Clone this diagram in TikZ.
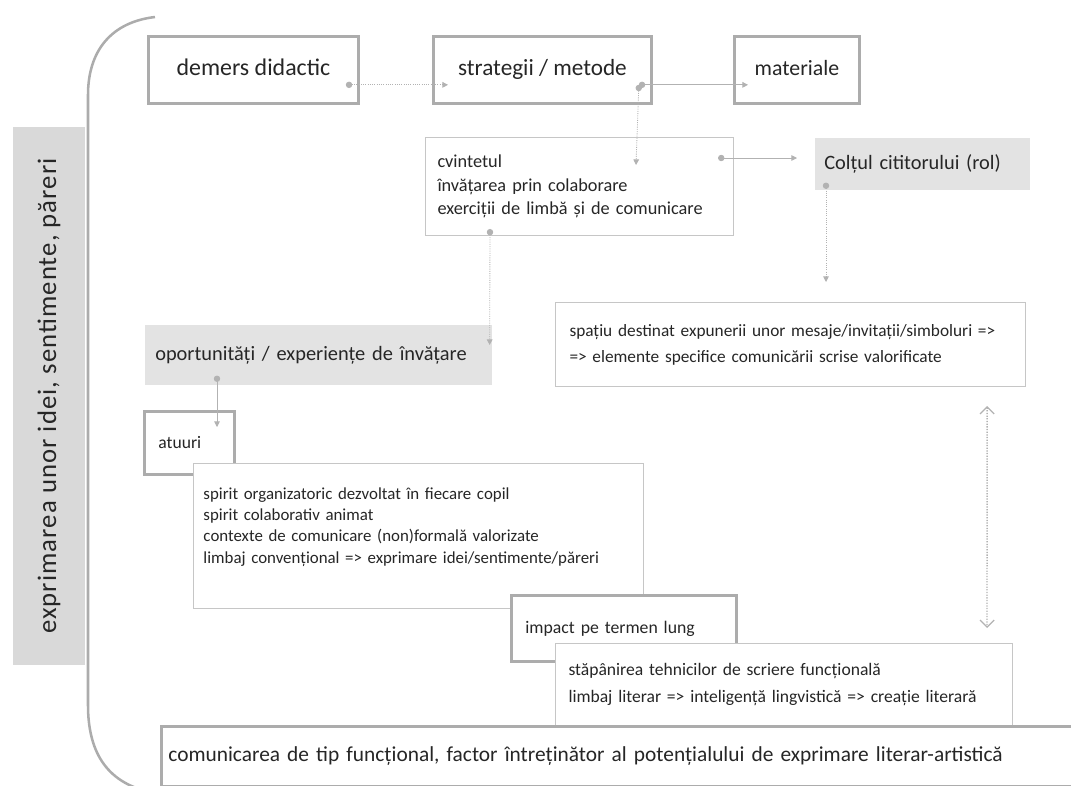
\documentclass[tikz,border=0pt]{standalone}
\usepackage{fontspec}
\setmainfont{Carlito}
\usetikzlibrary{arrows.meta,calc,positioning}

\tikzset{
  thickbox/.style={rectangle, draw=gray!65, line width=2pt, fill=white, text=black!85, inner sep=0pt},
  topbox/.style={thickbox, anchor=north west, minimum height=1.675cm, text height=0.5cm, text depth=0.2cm},
  thinbox/.style={rectangle, draw=gray!45, line width=0.7pt, fill=white, text=black!85, align=left, inner sep=0pt},
  shaded/.style={rectangle, fill=gray!22, text=black!85, align=left, inner sep=0pt},
  link/.style={{Circle[length=4.5pt]}-{Triangle[length=4pt,width=4pt]}, draw=gray!60, line width=0.6pt},
  dlink/.style={link, densely dotted},
  both/.style={{Straight Barb[length=5pt,width=10pt]}-{Straight Barb[length=5pt,width=10pt]}, draw=gray!60, line width=0.9pt, densely dotted},
  bracket/.style={draw=gray!65, line width=1.8pt}
}

\begin{document}
\begin{tikzpicture}[x=0.025cm, y=-0.025cm]
    \useasboundingbox (0,0) rectangle (1071,785);

    % left side bar and bracket
    \node[shaded, align=center, minimum width=13.425cm, minimum height=1.8cm, rotate=90,
          font=\fontsize{19}{22}\selectfont\addfontfeatures{LetterSpace=4}, fill=gray!30] (theme) at (49,396) {exprimarea unor idei, sentimente, păreri};
    \draw[bracket] (155,17) .. controls (112,22) and (88,50) .. (88,95) -- (88,705)
        .. controls (88,750) and (105,782) .. (150,792);

    % top row
    \node[topbox, minimum width=5.25cm, font=\fontsize{17}{20}\selectfont] (demers) at (147,35) {demers didactic};
    \node[topbox, minimum width=5.45cm, font=\fontsize{16.5}{20}\selectfont] (strategii) at (432,35) {strategii / metode};
    \node[topbox, minimum width=3.125cm, font=\fontsize{15.5}{19}\selectfont] (materiale) at (733,35) {materiale};

    % methods and reading corner
    \node[thinbox, anchor=north west, minimum width=7.7cm, minimum height=2.45cm, text width=7.1cm,
          inner xsep=0.3cm, font=\fontsize{13}{16.8}\selectfont] (metode) at (425,137)
          {cvintetul\\învățarea prin colaborare\\exerciții de limbă și de comunicare};
    \node[shaded, anchor=north west, minimum width=5.375cm, minimum height=1.3cm, text width=4.925cm,
          inner xsep=0.225cm, font=\fontsize{14.5}{17}\selectfont] (coltul) at (815,138) {Colțul cititorului (rol)};
    \node[thinbox, anchor=north west, minimum width=11.75cm, minimum height=2.1cm, text width=11.05cm,
          inner xsep=0.35cm, font=\fontsize{12.3}{18.5}\selectfont] (spatiu) at (555,302)
          {spațiu destinat expunerii unor mesaje/invitații/simboluri =>\\=> elemente specifice comunicării scrise valorificate};

    % opportunities
    \node[shaded, anchor=north west, minimum width=8.675cm, minimum height=1.5cm, text width=8.175cm,
          inner xsep=0.25cm, font=\fontsize{14.5}{17}\selectfont] (oport) at (145,325) {oportunități / experiențe de învățare};
    \node[thickbox, anchor=north west, minimum width=2.25cm, minimum height=1.575cm, text width=1.55cm,
          inner xsep=0.35cm, align=left, font=\fontsize{12.5}{15}\selectfont] (atuuri) at (143,410) {atuuri};
    \node[thinbox, anchor=north west, minimum width=11.25cm, minimum height=3.625cm, text width=10.75cm,
          inner xsep=0.25cm, font=\fontsize{12}{15.2}\selectfont] (atuuriText) at (193,463)
          {spirit organizatoric dezvoltat în fiecare copil\\spirit colaborativ animat\\contexte de comunicare (non)formală valorizate\\limbaj convențional => exprimare idei/sentimente/păreri\\\mbox{}};

    % long term impact
    \node[thickbox, anchor=north west, minimum width=5.625cm, minimum height=1.65cm, text width=4.925cm,
          inner xsep=0.35cm, align=left, font=\fontsize{12.6}{15}\selectfont] (impact) at (510,594) {impact pe termen lung};
    \node[thinbox, anchor=north west, minimum width=11.425cm, minimum height=2.05cm, text width=10.775cm,
          inner xsep=0.325cm, font=\fontsize{12.5}{19}\selectfont] (impactText) at (555,643)
          {stăpânirea tehnicilor de scriere funcțională\\limbaj literar => inteligență lingvistică => creație literară};

    % bottom line
    \node[thickbox, anchor=north west, minimum width=23.25cm, minimum height=1.5cm, text width=22.9cm,
          inner xsep=0.175cm, align=left, font=\fontsize{15.2}{18}\selectfont] (concluzie) at (160,725)
          {comunicarea de tip funcțional, factor întreținător al potențialului de exprimare literar-artistică};

    % connectors
    \draw[dlink] ($(demers.south east)+(-14,-20)$) -- ($(strategii.south west)+(16,-20)$);
    \draw[link] ($(strategii.south east)+(-14,-20)$) -- ($(materiale.south west)+(15,-20)$);
    \draw[dlink] ($(strategii.south east)+(-14,-20)$) -- ($(metode.north west)+(211,28)$);
    \draw[link] ($(metode.north east)+(-16,21)$) -- ($(coltul.north west)+(-18,20)$);
    \draw[dlink] ($(coltul.south west)+(11,-8)$) -- ($(spatiu.north west)+(271,-20)$);
    \draw[dlink] ($(metode.south west)+(65,-7)$) -- ($(oport.north east)+(-3,20)$);
    \draw[link] ($(oport.south west)+(72,-10)$) -- ($(atuuri.north west)+(74,17)$);
    \draw[both] ($(spatiu.south east)+(-39,19)$) -- ($(impactText.north east)+(-26,-15)$);

\end{tikzpicture}
\end{document}
